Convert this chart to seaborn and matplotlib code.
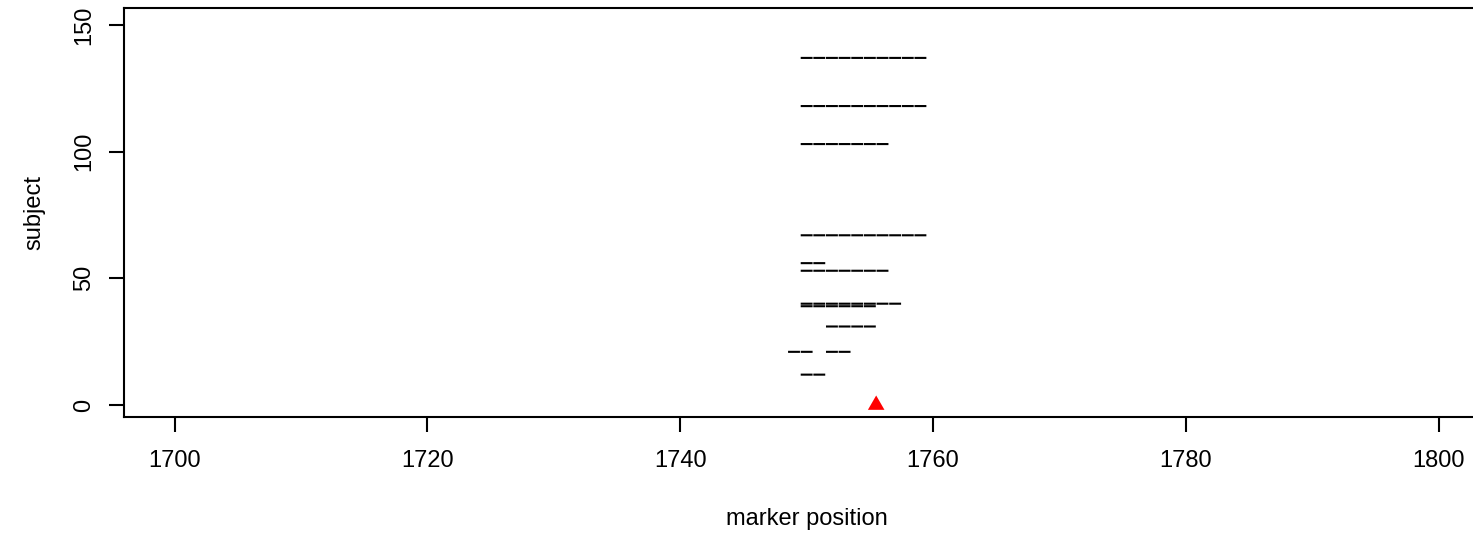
import numpy as np
import pandas as pd
import matplotlib
matplotlib.use("Agg")
import matplotlib.pyplot as plt
from matplotlib.path import Path
import seaborn as sns

# Subjects carrying a recombinant segment and the marker positions that segment covers
subjects = [137, 118, 103, 67, 56, 53, 40, 39, 31, 21, 12]
marker_positions = [
    [1750, 1751, 1752, 1753, 1754, 1755, 1756, 1757, 1758, 1759],
    [1750, 1751, 1752, 1753, 1754, 1755, 1756, 1757, 1758, 1759],
    [1750, 1751, 1752, 1753, 1754, 1755, 1756],
    [1750, 1751, 1752, 1753, 1754, 1755, 1756, 1757, 1758, 1759],
    [1750, 1751],
    [1750, 1751, 1752, 1753, 1754, 1755, 1756],
    [1750, 1751, 1752, 1753, 1754, 1755, 1756, 1757],
    [1750, 1751, 1752, 1753, 1754, 1755],
    [1752, 1753, 1754, 1755],
    [1749, 1750, 1752, 1753],
    [1750, 1751],
]
# Location of the trait-associated marker, shown on the baseline
qtl_position = [1755.5]
qtl_subject = [0]

x_ticks = [1700, 1720, 1740, 1760, 1780, 1800]
y_ticks = [0, 50, 100, 150]

# Each marker is drawn as a one-unit dash centred on its position
half = 0.5
gap = 0.03
rows = []
dash_id = 0
for subj, positions in zip(subjects, marker_positions):
    for p in positions:
        rows.append({"dash": dash_id, "pos": p - half + gap, "subject": subj})
        rows.append({"dash": dash_id, "pos": p + half - gap, "subject": subj})
        dash_id += 1
dashes = pd.DataFrame(rows)
qtl = pd.DataFrame({"pos": qtl_position, "subject": qtl_subject})

sns.set_theme(style="ticks")
plt.rcParams["font.family"] = ["Liberation Sans", "DejaVu Sans"]
plt.rcParams["text.color"] = "black"
plt.rcParams["axes.labelcolor"] = "black"
plt.rcParams["xtick.color"] = "black"
plt.rcParams["ytick.color"] = "black"

fig = plt.figure(figsize=(14.73, 5.35), dpi=100)
ax = fig.add_axes([124 / 1473, 118.3 / 535, 1365.3 / 1473, 408.7 / 535])

sns.lineplot(data=dashes, x="pos", y="subject", units="dash", estimator=None,
             color="black", linewidth=1.5, solid_capstyle="butt", ax=ax,
             legend=False, sort=False)
for ln in ax.get_lines():
    ln.set_snap(False)

# Equilateral triangle centred on its centroid
tri = Path([(0, 1.0), (-0.866, -0.5), (0.866, -0.5), (0, 1.0)],
           [Path.MOVETO, Path.LINETO, Path.LINETO, Path.CLOSEPOLY])
sns.scatterplot(data=qtl, x="pos", y="subject", marker=tri, s=190,
                color="red", edgecolor="none", linewidth=0, ax=ax,
                legend=False, zorder=5, clip_on=False)

ax.set_xlim(1696, 1804)
ax.set_ylim(-4.6, 156.7)
ax.set_xticks(x_ticks)
ax.set_xticklabels([str(v) for v in x_ticks], fontsize=17, color="black")
ax.set_yticks(y_ticks)
ax.set_yticklabels([str(v) for v in y_ticks], fontsize=17, rotation=90,
                   va="center", color="black")
ax.tick_params(axis="both", direction="out", length=11, width=1.5,
               color="black", labelcolor="black")
ax.tick_params(axis="x", pad=13)
ax.tick_params(axis="y", pad=10)

for side in ["left", "top", "bottom"]:
    ax.spines[side].set_visible(True)
    ax.spines[side].set_linewidth(1.5)
    ax.spines[side].set_color("black")
ax.spines["right"].set_visible(False)

ax.set_xlabel("marker position", fontsize=17, labelpad=26, color="black")
ax.set_ylabel("subject", fontsize=17, labelpad=20, color="black")

fig.savefig("out.png", dpi=100, facecolor="white")
